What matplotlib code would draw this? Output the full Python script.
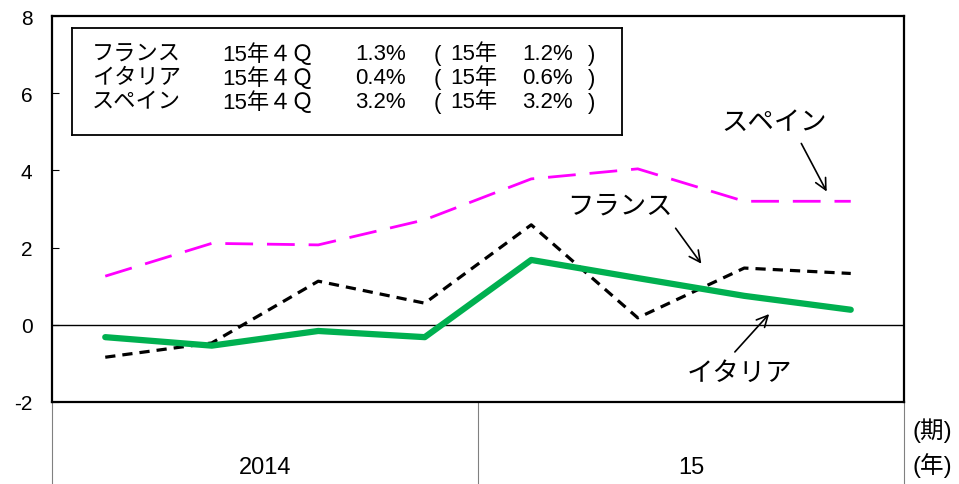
import matplotlib
matplotlib.use("Agg")
import matplotlib.pyplot as plt

plt.rcParams['font.family'] = ['Liberation Sans', 'Noto Sans CJK JP']
plt.rcParams['axes.unicode_minus'] = False

quarters = ["1", "2", "3", "4", "1", "2", "3", "4"]
years = ["2014", "15"]
france = [-0.84, -0.47, 1.13, 0.56, 2.59, 0.18, 1.47, 1.33]
italy = [-0.32, -0.54, -0.16, -0.32, 1.68, 1.21, 0.75, 0.39]
spain = [1.26, 2.11, 2.07, 2.72, 3.78, 4.04, 3.2, 3.2]

box_names = ["フランス", "イタリア", "スペイン"]
box_q = ["15年４Ｑ", "15年４Ｑ", "15年４Ｑ"]
box_qv = ["1.3%", "0.4%", "3.2%"]
box_yv = ["1.2%", "0.6%", "3.2%"]

W, H = 959, 485
fig = plt.figure(figsize=(W / 100, H / 100), dpi=100)
ax = fig.add_axes([52 / W, 1 - 403 / H, (904 - 52) / W, (403 - 17) / H])

x = list(range(len(quarters)))
ax.plot(x, spain, color='#FF00FF', lw=2.0, dashes=(10, 5))
ax.plot(x, france, color='black', lw=2.3, dashes=(3.2, 2.2))
ax.plot(x, italy, color='#00B050', lw=4.5, solid_capstyle='round')
ax.axhline(0, color='black', lw=1.0, zorder=1)

ax.set_xlim(-0.5, 7.5)
ax.set_ylim(-2, 8)
ax.set_yticks([-2, 0, 2, 4, 6, 8])
ax.tick_params(axis='y', direction='in', length=5, labelsize=15, pad=14)
ax.set_xticks([])
for s in ax.spines.values():
    s.set_linewidth(1.6)

# category axis separators
tr = ax.get_xaxis_transform()
for xv in [-0.5, 3.5, 7.5]:
    ax.plot([xv, xv], [0, -0.22], transform=tr, color='#808080', lw=0.8, clip_on=False)
ybl = -(468 - 403) / 386
ax.text(1.5, ybl, years[0], transform=tr, ha='center', va='center', fontsize=17)
ax.text(5.5, ybl, years[1], transform=tr, ha='center', va='center', fontsize=17)
fig.text(912 / W, 1 - 431 / H, "(期)", ha='left', va='center', fontsize=17)
fig.text(912 / W, 1 - 466 / H, "(年)", ha='left', va='center', fontsize=17)

# info box
bx = fig.add_axes([72 / W, 1 - 136 / H, (622 - 72) / W, (136 - 29) / H])
bx.set_xticks([]); bx.set_yticks([])
bx.set_xlim(72, 622); bx.set_ylim(136, 29)
for s in bx.spines.values():
    s.set_linewidth(1.3)
rows_y = [55, 79, 103]
fs = 16
for i, yy in enumerate(rows_y):
    bx.text(92, yy, box_names[i], ha='left', va='center', fontsize=fs)
    bx.text(222, yy, box_q[i], ha='left', va='center', fontsize=fs)
    bx.text(355, yy, box_qv[i], ha='left', va='center', fontsize=fs)
    bx.text(434, yy, "(", ha='left', va='center', fontsize=fs)
    bx.text(450, yy, "15年", ha='left', va='center', fontsize=fs)
    bx.text(522, yy, box_yv[i], ha='left', va='center', fontsize=fs)
    bx.text(588, yy, ")", ha='left', va='center', fontsize=fs)

def fig_xy(px, py):
    return (px / W, 1 - py / H)

arrow = dict(arrowstyle='->', color='black', lw=1.2, mutation_scale=20)
ax.annotate("", xy=fig_xy(828, 195), xytext=fig_xy(800, 142), xycoords='figure fraction',
            textcoords='figure fraction', arrowprops=arrow)
fig.text(774 / W, 1 - 123 / H, "スペイン", ha='center', va='center', fontsize=19)
ax.annotate("", xy=fig_xy(703, 267), xytext=fig_xy(674, 227), xycoords='figure fraction',
            textcoords='figure fraction', arrowprops=arrow)
fig.text(620 / W, 1 - 207 / H, "フランス", ha='center', va='center', fontsize=19)
ax.annotate("", xy=fig_xy(771, 313), xytext=fig_xy(733, 355), xycoords='figure fraction',
            textcoords='figure fraction', arrowprops=arrow)
fig.text(739 / W, 1 - 374 / H, "イタリア", ha='center', va='center', fontsize=19)

fig.savefig("out.png", dpi=100)
